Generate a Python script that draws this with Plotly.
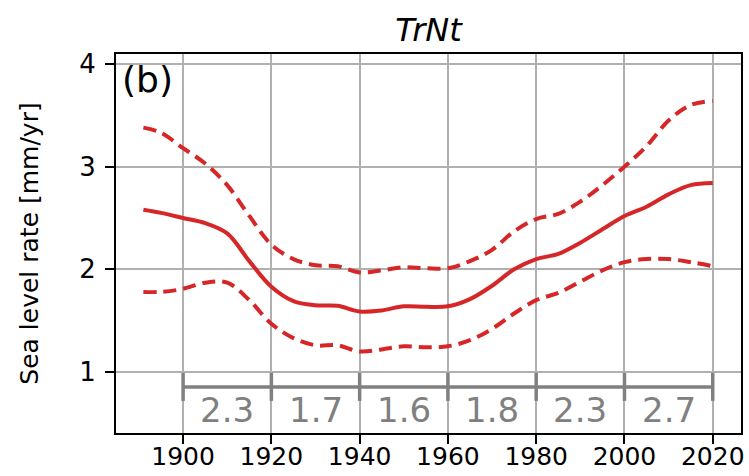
import plotly.graph_objects as go

years = [1891, 1895, 1900, 1905, 1910, 1915, 1920, 1925, 1930, 1935, 1940, 1945, 1950,
         1955, 1960, 1965, 1970, 1975, 1980, 1985, 1990, 1995, 2000, 2005, 2010, 2015, 2020]
rate_mean = [2.58, 2.55, 2.50, 2.45, 2.35, 2.08, 1.83, 1.69, 1.65, 1.645, 1.59, 1.60, 1.64,
             1.635, 1.64, 1.71, 1.84, 2.00, 2.10, 2.15, 2.26, 2.39, 2.52, 2.61, 2.73, 2.82, 2.84]
rate_upper = [3.38, 3.33, 3.18, 3.03, 2.82, 2.52, 2.24, 2.10, 2.04, 2.03, 1.97, 1.99, 2.02,
              2.01, 2.01, 2.08, 2.19, 2.37, 2.49, 2.54, 2.66, 2.82, 3.00, 3.20, 3.45, 3.60, 3.64]
rate_lower = [1.78, 1.78, 1.81, 1.87, 1.87, 1.70, 1.47, 1.33, 1.26, 1.26, 1.20, 1.22, 1.25,
              1.24, 1.25, 1.31, 1.42, 1.57, 1.70, 1.77, 1.88, 1.99, 2.07, 2.10, 2.10, 2.07, 2.03]

period_edges = [1900, 1920, 1940, 1960, 1980, 2000, 2020]
period_mid = [1910, 1930, 1950, 1970, 1990, 2010]
period_rates = ["2.3", "1.7", "1.6", "1.8", "2.3", "2.7"]
bar_level = [0.855] * len(period_edges)
label_level = 0.63

x_ticks = [1900, 1920, 1940, 1960, 1980, 2000, 2020]
y_ticks = [1, 2, 3, 4]

RED = "#d62728"
GRAY = "#808080"
FONT = "DejaVu Sans"

fig = go.Figure()
fig.add_trace(go.Scatter(x=years, y=rate_upper, mode="lines", line=dict(color=RED, width=4, dash="13px,7px", shape="spline")))
fig.add_trace(go.Scatter(x=years, y=rate_lower, mode="lines", line=dict(color=RED, width=4, dash="13px,7px", shape="spline")))
fig.add_trace(go.Scatter(x=years, y=rate_mean, mode="lines", line=dict(color=RED, width=4, shape="spline")))
fig.add_trace(go.Scatter(x=period_edges, y=bar_level, mode="lines+markers",
                         line=dict(color=GRAY, width=3.5),
                         marker=dict(symbol="line-ns-open", size=20, line=dict(color=GRAY, width=3.5))))

for xm, txt in zip(period_mid, period_rates):
    fig.add_annotation(x=xm, y=label_level, text=txt, showarrow=False,
                       font=dict(family=FONT, size=34, color=GRAY), xanchor="center", yanchor="middle")

fig.add_annotation(xref="paper", yref="paper", x=0, y=1, xshift=4, yshift=-3, text="(b)", showarrow=False,
                   xanchor="left", yanchor="top", font=dict(family=FONT, size=36, color="black"))

fig.update_layout(
    width=749, height=476,
    margin=dict(l=116, r=8, t=54, b=43, autoexpand=False),
    paper_bgcolor="white", plot_bgcolor="white",
    showlegend=False,
    font=dict(family=FONT, size=26, color="black"),
    title=dict(text="<i>TrNt</i>", x=0.5, xref="paper", xanchor="center",
               y=1 - 30 / 476, yref="container", yanchor="middle",
               font=dict(family=FONT, size=32, color="black")),
)
fig.update_xaxes(range=[1884.8, 2026.4], tickvals=x_ticks, ticks="outside", ticklen=9, tickwidth=2,
                 tickcolor="black", showgrid=True, gridcolor="#b0b0b0", gridwidth=1.5,
                 showline=True, linecolor="black", linewidth=2, mirror=True, zeroline=False,
                 automargin=False, ticklabelstandoff=-9, tickfont=dict(family=FONT, size=25))
fig.update_yaxes(range=[0.406, 4.097], tickvals=y_ticks, ticks="outside", ticklen=9, tickwidth=2,
                 tickcolor="black", showgrid=True, gridcolor="#b0b0b0", gridwidth=1.5,
                 showline=True, linecolor="black", linewidth=2, mirror=True, zeroline=False,
                 automargin=False, ticklabelstandoff=4, tickfont=dict(family=FONT, size=26),
                 title=dict(text="Sea level rate [mm/yr]", font=dict(family=FONT, size=25), standoff=34))

fig.write_html("out.html")
